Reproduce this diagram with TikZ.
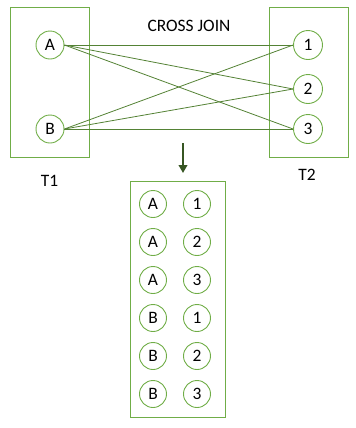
\documentclass[tikz,border=0pt]{standalone}
\usepackage{fontspec}
\setmainfont{Carlito}
\usetikzlibrary{arrows.meta, positioning}
\definecolor{joinbox}{HTML}{70AD47}
\definecolor{joinline}{HTML}{548235}
\definecolor{joinarrow}{HTML}{375623}

\begin{document}
\begin{tikzpicture}[
        x=1bp, y=-1bp,
        tablebox/.style={
            draw=joinbox,
            line width=0.9bp,
            inner sep=0pt
        },
        keycircle/.style={
            circle,
            draw=joinbox,
            line width=0.9bp,
            minimum size=28bp,
            inner sep=0pt,
            font=\fontsize{17.5}{17.5}\selectfont
        },
        pairline/.style={draw=joinline, line width=0.8bp},
        resultarrow/.style={-{Triangle[length=2.8mm, width=3mm]}, line width=2.4bp, joinarrow},
        tablename/.style={font=\fontsize{17.5}{17.5}\selectfont}
    ]
        \useasboundingbox (0,0) rectangle (356,428);

        % source tables
        \node[tablebox, minimum width=79bp, minimum height=150bp] (t1box) at (49.5,82) {};
        \node[tablebox, minimum width=79bp, minimum height=150bp] (t2box) at (308.5,82) {};
        \node[tablename] (t1name) at (49.5,180.5) {T1};
        \node[tablename] (t2name) at (307,175) {T2};
        \node[tablename] (joinname) at (189,26) {CROSS JOIN};

        \node[keycircle] (a) at (50,45) {A};
        \node[keycircle] (b) at (50,129) {B};
        \node[keycircle, minimum size=29bp] (one) at (308,45) {1};
        \node[keycircle, minimum size=29bp] (two) at (308,89) {2};
        \node[keycircle, minimum size=29bp] (three) at (308,129) {3};

        \foreach \left in {a, b}
            \foreach \right in {one, two, three}
                \draw[pairline] (\left.east) -- (\right.west);

        % result
        \coordinate (arrowtop) at (183,143);
        \coordinate (arrowtip) at (183,173);
        \draw[resultarrow] (arrowtop) -- (arrowtip);

        \node[tablebox, minimum width=95bp, minimum height=236bp] (resultbox) at (177.5,299) {};
        \foreach \key/\value [count=\row from 0] in {A/1, A/2, A/3, B/1, B/2, B/3} {
            \node[keycircle, minimum size=27bp] (left\row) at (153,204+38*\row) {\key};
            \node[keycircle, minimum size=27bp] (right\row) at (197,204+38*\row) {\value};
        }
    \end{tikzpicture}
\end{document}
